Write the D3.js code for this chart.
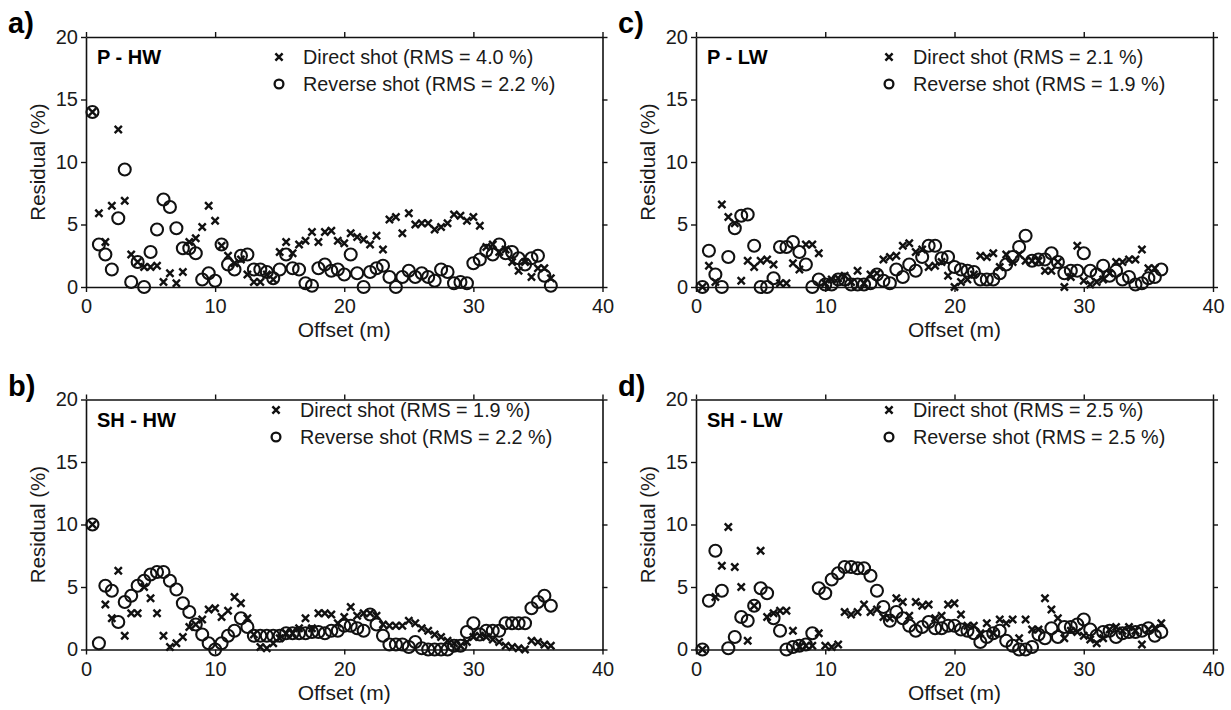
<!DOCTYPE html>
<html><head><meta charset="utf-8">
<script src="https://cdnjs.cloudflare.com/ajax/libs/d3/7.8.5/d3.min.js"></script>
<style>
body{margin:0;background:#fff;}
svg{display:block;font-family:"Liberation Sans",Arial,sans-serif;}
</style></head><body>
<svg id="fig" width="1231" height="710"></svg>
<script>
const offsets = [0.5,1,1.5,2,2.5,3,3.5,4,4.5,5,5.5,6,6.5,7,7.5,8,8.5,9,9.5,10,10.5,11,11.5,12,12.5,13,13.5,14,14.5,15,15.5,16,16.5,17,17.5,18,18.5,19,19.5,20,20.5,21,21.5,22,22.5,23,23.5,24,24.5,25,25.5,26,26.5,27,27.5,28,28.5,29,29.5,30,30.5,31,31.5,32,32.5,33,33.5,34,34.5,35,35.5,36];
const xTicks = [0,10,20,30,40];
const yTicks = [0,5,10,15,20];

// a) P - HW
const aDirect = [14.0,5.9,3.6,6.5,12.6,6.9,2.6,2.0,1.6,1.6,1.7,0.4,1.1,0.3,1.2,3.6,3.9,4.8,6.5,5.3,3.3,2.5,1.9,2.2,1.0,0.4,0.4,1.0,0.6,2.8,3.6,2.7,3.4,3.7,4.4,3.6,4.4,4.5,3.7,3.5,4.3,4.0,3.8,3.4,4.1,3.0,5.4,5.6,4.3,5.9,5.0,5.1,5.1,4.6,4.8,5.1,5.8,5.7,5.3,5.6,4.9,3.2,3.4,2.8,3.0,2.0,1.3,2.0,0.8,1.5,1.5,0.7];
const aReverse = [14.0,3.4,2.6,1.4,5.5,9.4,0.4,2.0,0.0,2.8,4.6,7.0,6.4,4.7,3.1,3.1,2.7,0.6,1.1,0.5,3.4,1.8,1.4,2.5,2.6,1.4,1.4,1.2,0.7,1.4,2.6,1.5,1.4,0.3,0.1,1.5,1.8,1.3,1.4,1.0,2.6,1.1,0.0,1.2,1.5,1.7,0.8,0.0,0.8,1.3,0.8,1.1,0.8,0.5,1.4,1.2,0.3,0.4,0.3,1.9,2.2,2.9,2.6,3.4,2.7,2.8,2.3,1.8,2.3,2.5,0.9,0.1];
// b) SH - HW
const bDirect = [10.0,null,3.6,2.5,6.3,1.1,2.9,2.9,5.0,4.1,2.9,1.1,0.2,0.5,1.0,1.8,2.0,2.4,3.2,3.3,2.6,3.1,4.2,3.7,2.5,1.2,0.2,0.1,0.5,0.9,1.3,1.3,1.7,2.5,1.7,2.9,2.9,2.8,2.1,2.6,3.4,2.7,2.9,2.9,2.7,2.0,1.9,1.9,1.9,2.3,2.1,1.7,1.5,1.2,1.0,0.7,0.5,0.3,0.6,1.0,1.1,1.0,0.8,0.6,0.3,0.2,0.1,0.0,0.7,0.6,0.4,0.3];
const bReverse = [10.0,0.5,5.1,4.7,2.2,3.8,4.3,5.1,5.5,6.0,6.2,6.2,5.5,4.8,3.7,3.0,2.0,1.2,0.5,0.0,0.5,1.1,1.5,2.5,1.8,1.1,1.1,1.1,1.1,1.1,1.3,1.3,1.3,1.3,1.4,1.4,1.3,1.5,1.5,1.9,1.9,1.7,1.5,2.8,2.0,1.1,0.4,0.4,0.4,0.2,0.6,0.1,0.0,0.0,0.0,0.0,0.3,0.3,1.4,2.1,1.2,1.5,1.5,1.5,2.1,2.1,2.1,2.1,3.3,3.8,4.3,3.5];
// c) P - LW
const cDirect = [0.0,1.7,0.4,6.6,5.6,5.1,0.5,2.1,1.6,2.1,2.2,1.8,0.3,0.3,1.9,1.4,3.4,3.4,2.7,0.3,0.6,0.7,0.9,0.4,1.3,0.3,1.0,1.1,2.2,2.4,2.5,3.3,3.5,2.8,3.0,1.6,1.7,2.0,0.9,0.0,0.4,0.6,1.0,2.5,2.4,2.7,1.6,2.6,2.0,2.6,2.1,2.1,2.1,1.3,1.3,2.0,0.0,0.8,3.3,0.5,0.2,0.4,0.6,1.1,2.0,2.0,2.2,2.2,3.0,1.5,1.5,null];
const cReverse = [0.0,2.9,1.0,0.0,2.4,4.7,5.7,5.8,3.3,0.0,0.0,0.7,3.2,3.2,3.6,2.8,1.8,0.0,0.6,0.2,0.2,0.6,0.6,0.2,0.2,0.2,0.3,1.0,0.5,0.3,1.4,0.8,1.8,1.3,2.4,3.3,3.3,2.3,2.4,1.6,1.4,1.3,1.2,0.6,0.6,0.6,1.1,1.8,2.4,3.2,4.1,2.1,2.2,2.2,2.7,2.0,1.1,1.3,1.3,2.7,1.3,1.0,1.7,0.9,1.3,0.6,0.8,0.2,0.3,0.7,0.8,1.4];
// d) SH - LW
const dDirect = [0.0,null,4.2,6.7,9.8,6.6,5.0,0.7,3.5,7.9,2.6,2.9,3.1,3.1,1.5,0.2,0.3,0.3,1.3,0.3,0.2,0.4,3.0,2.8,3.0,3.6,3.0,3.2,2.6,2.5,4.1,3.8,2.7,3.8,3.5,3.6,2.5,2.7,3.6,3.7,2.8,1.9,1.9,1.3,2.1,1.3,2.4,2.1,2.4,0.9,2.4,1.6,1.6,4.1,3.2,2.5,0.9,1.5,1.4,1.1,0.8,0.5,0.9,1.6,1.8,1.5,1.8,1.5,0.4,1.6,1.7,2.1];
const dReverse = [0.0,3.9,7.9,4.7,0.1,1.0,2.6,2.3,3.5,4.9,4.5,2.5,1.5,0.0,0.2,0.3,0.4,1.3,4.9,4.5,5.6,6.1,6.6,6.6,6.5,6.5,5.9,4.7,3.4,2.3,3.0,2.5,1.9,1.5,1.8,2.2,1.7,1.7,1.9,1.9,1.6,1.5,1.3,0.6,1.0,1.3,1.5,0.7,0.3,0.0,0.0,0.2,1.2,0.9,1.7,1.0,1.8,1.8,2.0,2.4,1.6,1.1,1.4,1.5,1.0,1.3,1.4,1.4,1.5,1.7,1.1,1.4];

const panelLetters = ["a)","c)","b)","d)"];
const panelNames = ["P - HW","P - LW","SH - HW","SH - LW"];
const rmsDirect = ["4.0","2.1","1.9","2.5"];
const rmsReverse = ["2.2","1.9","2.2","2.5"];
const directSeries = [aDirect,cDirect,bDirect,dDirect];
const reverseSeries = [aReverse,cReverse,bReverse,dReverse];

// layout (pixels)
const boxes = [
  {x0:86, x1:602.5, yT:37, yB:287, legY:57, legX:193},
  {x0:696, x1:1213, yT:37, yB:287, legY:57, legX:193},
  {x0:86, x1:602.5, yT:399.5, yB:649.5, legY:410, legX:190},
  {x0:696, x1:1213, yT:399.5, yB:649.5, legY:410, legX:193}
];

const svg = d3.select("#fig");
const ink = "#111";
const txt = "#1a1a1a";

function crossPath(h){ return `M${-h},${-h}L${h},${h}M${-h},${h}L${h},${-h}`; }

boxes.forEach((b,i)=>{
  const x = d3.scaleLinear().domain([0,40]).range([b.x0,b.x1]);
  const y = d3.scaleLinear().domain([0,20]).range([b.yB,b.yT]);
  const g = svg.append("g");

  const styleAxis = sel => {
    sel.selectAll("path.domain").attr("stroke",ink).attr("stroke-width",1.6);
    sel.selectAll(".tick line").attr("stroke",ink).attr("stroke-width",1.4);
    sel.selectAll(".tick text").attr("fill",txt).style("font-size","20px")
      .style("font-family",'"Liberation Sans",Arial,sans-serif');
  };
  g.append("g").attr("transform",`translate(0,${b.yB})`)
    .call(d3.axisBottom(x).tickValues(xTicks).tickSize(5).tickSizeOuter(0).tickPadding(7))
    .call(styleAxis);
  g.append("g").attr("transform",`translate(0,${b.yT})`)
    .call(d3.axisTop(x).tickValues(xTicks).tickSize(5).tickSizeOuter(0).tickFormat(""))
    .call(styleAxis);
  g.append("g").attr("transform",`translate(${b.x0},0)`)
    .call(d3.axisLeft(y).tickValues(yTicks).tickSize(5).tickSizeOuter(0).tickPadding(3))
    .call(styleAxis);
  g.append("g").attr("transform",`translate(${b.x1},0)`)
    .call(d3.axisRight(y).tickValues(yTicks).tickSize(5).tickSizeOuter(0).tickFormat(""))
    .call(styleAxis);

  // axis titles
  g.append("text").attr("x",(b.x0+b.x1)/2).attr("y",b.yB+50).attr("text-anchor","middle")
    .attr("fill",txt).style("font-size","21px").text("Offset (m)");
  g.append("text").attr("transform",`translate(${b.x0-41},${(b.yT+b.yB)/2}) rotate(-90)`)
    .attr("text-anchor","middle").attr("fill",txt).style("font-size","20.5px").text("Residual (%)");

  // panel letter
  g.append("text").attr("x",b.x0-78).attr("y",b.yT-4)
    .attr("fill","#000").style("font-size","29px").style("font-weight","bold").text(panelLetters[i]);

  // panel name
  g.append("text").attr("x",b.x0+11).attr("y",b.yT+27).attr("fill","#000")
    .style("font-size","20px").style("font-weight","bold").text(panelNames[i]);

  // legend
  const lx = b.x0+b.legX, tx = b.x0+b.legX+24;
  g.append("path").attr("d",crossPath(3.6)).attr("transform",`translate(${lx},${b.legY})`)
    .attr("stroke",ink).attr("stroke-width",2.5).attr("fill","none");
  g.append("circle").attr("cx",lx).attr("cy",b.legY+27).attr("r",4.4)
    .attr("stroke",ink).attr("stroke-width",2.3).attr("fill","none");
  g.append("text").attr("x",tx).attr("y",b.legY+7).attr("fill",txt).style("font-size","19.8px")
    .text(`Direct shot (RMS = ${rmsDirect[i]} %)`);
  g.append("text").attr("x",tx).attr("y",b.legY+34).attr("fill",txt).style("font-size","19.8px")
    .text(`Reverse shot (RMS = ${rmsReverse[i]} %)`);

  // data
  const rev = offsets.map((o,k)=>({o, v:reverseSeries[i][k]})).filter(d=>d.v!=null);
  const dir = offsets.map((o,k)=>({o, v:directSeries[i][k]})).filter(d=>d.v!=null);
  g.append("g").selectAll("circle").data(rev).join("circle")
    .attr("cx",d=>x(d.o)).attr("cy",d=>y(d.v)).attr("r",6)
    .attr("fill","none").attr("stroke",ink).attr("stroke-width",2.1);
  g.append("g").selectAll("path").data(dir).join("path")
    .attr("d",crossPath(3.6)).attr("transform",d=>`translate(${x(d.o)},${y(d.v)})`)
    .attr("fill","none").attr("stroke",ink).attr("stroke-width",2.4);
});
</script>
</body></html>
